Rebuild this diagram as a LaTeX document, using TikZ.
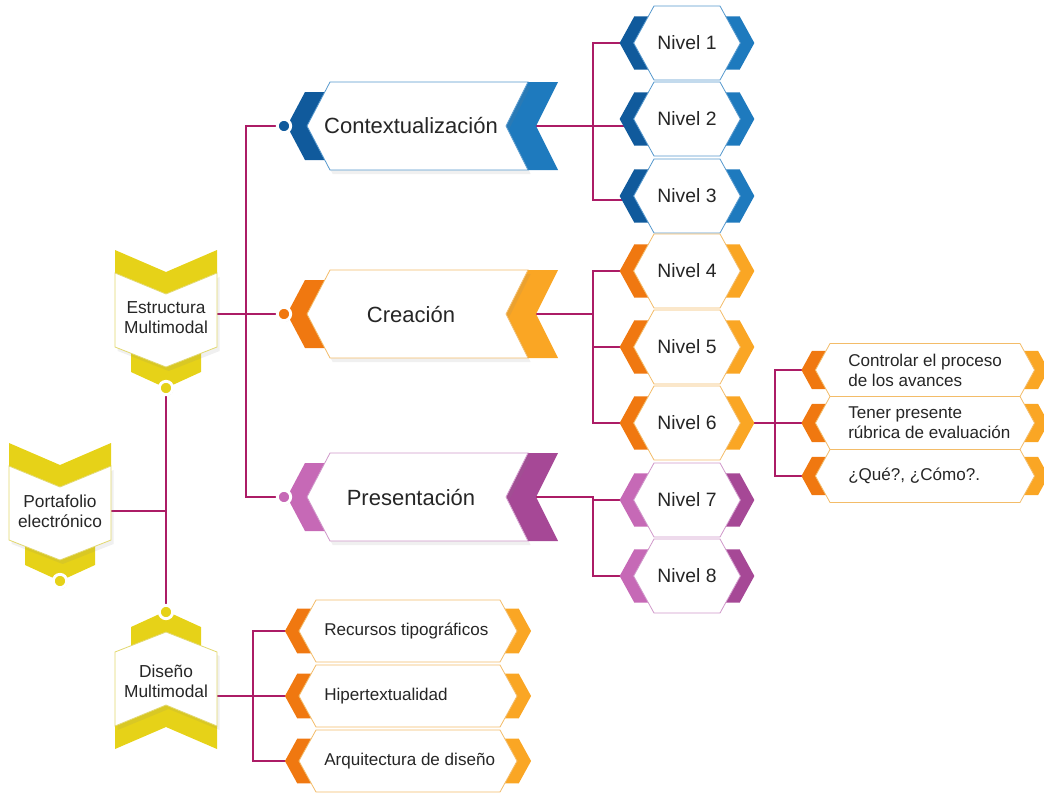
\documentclass[tikz,border=0pt]{standalone}
\usepackage{fontspec}
\setmainfont{Liberation Sans}
\usepackage{tikz}
\usetikzlibrary{shadows}
\pgfdeclarelayer{bg}
\pgfsetlayers{bg,main}

\definecolor{blueA}{RGB}{16,90,156}
\definecolor{blueB}{RGB}{30,122,190}
\definecolor{blueL}{RGB}{85,152,205}
\definecolor{orangeA}{RGB}{240,120,16}
\definecolor{orangeB}{RGB}{250,166,36}
\definecolor{orangeL}{RGB}{243,188,105}
\definecolor{violetA}{RGB}{198,105,182}
\definecolor{violetB}{RGB}{166,72,150}
\definecolor{violetL}{RGB}{208,152,202}
\definecolor{yellowA}{RGB}{230,210,24}
\definecolor{yellowL}{RGB}{226,216,110}
\definecolor{linkc}{RGB}{172,28,102}
\definecolor{txt}{RGB}{38,38,38}

\begin{document}
\begin{tikzpicture}[x=0.75pt, y=-0.75pt,
	link/.style={draw=linkc, line width=1.1pt},
	dot/.style={circle, fill=#1, draw=white, line width=2.2pt, minimum size=10pt, inner sep=0pt,
		drop shadow={opacity=.3, shadow xshift=.6pt, shadow yshift=-.8pt}},
	maintxt/.style={font=\fontsize{16.5}{19}\selectfont, text=txt},
	niveltxt/.style={font=\fontsize{14.5}{17}\selectfont, text=txt},
	leaftxt/.style={font=\fontsize{12.8}{15}\selectfont, text=txt, align=left, inner sep=0pt},
	ytxt/.style={font=\fontsize{13}{15}\selectfont, text=txt, align=center},
	pics/banner/.style n args={3}{code={
		\fill[fill=#1] (-112,-34) -- (-90,-34) -- (-108,0) -- (-90,34) -- (-112,34) -- (-130,0) -- cycle;
		\fill[fill=#2] (111,-44) -- (141,-44) -- (119,0) -- (141,44) -- (111,44) -- (89,0) -- cycle;
		\filldraw[fill=white, draw=#3, line width=.6pt, drop shadow={opacity=.12, shadow xshift=2pt, shadow yshift=-3pt}]
			(-87,-44) -- (111,-44) -- (89,0) -- (111,44) -- (-87,44) -- (-110,0) -- cycle;
	}},
	pics/hexa/.style n args={5}{code={
		\pgfmathsetmacro\hxtip{#1+0.55*#2}
		\pgfmathsetmacro\hxh{0.72*#2}
		\pgfmathsetmacro\hxb{#1+0.55*(#2-\hxh)}
		\fill[fill=#3] (-\hxb+5,-\hxh) -- (-\hxb-14,-\hxh) -- (-\hxtip-14,0) -- (-\hxb-14,\hxh) -- (-\hxb+5,\hxh) -- (-\hxtip+5,0) -- cycle;
		\fill[fill=#4] (\hxb-5,-\hxh) -- (\hxb+14,-\hxh) -- (\hxtip+14,0) -- (\hxb+14,\hxh) -- (\hxb-5,\hxh) -- (\hxtip-5,0) -- cycle;
		\filldraw[fill=white, draw=#5, line width=.6pt]
			(-#1,-#2) -- (#1,-#2) -- (\hxtip,0) -- (#1,#2) -- (-#1,#2) -- (-\hxtip,0) -- cycle;
	}},
	pics/tag/.style={code={
		\fill[yellowA] (-35,25) -- (35,25) -- (35,54) -- (0,70) -- (-35,54) -- cycle;
		\fill[yellowA] (-51,-68) -- (0,-46) -- (51,-68) -- (51,-45) -- (0,-24) -- (-51,-45) -- cycle;
		\filldraw[fill=white, draw=yellowL, line width=.6pt, drop shadow={opacity=.12, shadow xshift=2pt, shadow yshift=-3pt}]
			(-51,-45) -- (0,-24) -- (51,-45) -- (51,29) -- (0,49) -- (-51,29) -- cycle;
	}}]
\useasboundingbox (0,0) rectangle (1044,793);

\coordinate (jA) at (246,0);
\coordinate (jB) at (593,0);
\coordinate (jC) at (775,0);
\coordinate (jD) at (253,0);

% yellow tags
\pic at (166,318) {tag};
\node[ytxt] (estr) at (166,318) {Estructura\\Multimodal};
\node[dot=yellowA] (ed) at (166,388) {};
\pic at (60,511) {tag};
\node[ytxt] (port) at (60,511) {Portafolio\\electrónico};
\node[dot=yellowA] (pd) at (60,581) {};
\pic[yscale=-1] at (166,681) {tag};
\node[ytxt] (dis) at (166,681) {Diseño\\Multimodal};
\node[dot=yellowA] (dd) at (166,612) {};

% banners
\pic at (417,126) {banner={blueA}{blueB}{blueL}};
\node[maintxt] (ctx) at (411,126) {Contextualización};
\node[dot=blueA] (d1) at (284,126) {};
\pic at (417,314) {banner={orangeA}{orangeB}{orangeL}};
\node[maintxt] (cre) at (411,314) {Creación};
\node[dot=orangeA] (d2) at (284,314) {};
\pic at (417,497) {banner={violetA}{violetB}{violetL}};
\node[maintxt] (pres) at (411,497) {Presentación};
\node[dot=violetA] (d3) at (284,497) {};

% niveles
\foreach \i/\y/\ca/\cb/\cl in {1/43/blueA/blueB/blueL, 2/119/blueA/blueB/blueL, 3/196/blueA/blueB/blueL,
	4/271/orangeA/orangeB/orangeL, 5/347/orangeA/orangeB/orangeL, 6/423/orangeA/orangeB/orangeL,
	7/500/violetA/violetB/violetL, 8/576/violetA/violetB/violetL}{
	\pic at (687,\y) {hexa={33}{37}{\ca}{\cb}{\cl}};
	\node[niveltxt] (n\i) at (687,\y) {Nivel \i};
}

% hojas
\foreach \y in {370,423,476}
	\pic at (925,\y) {hexa={95}{26.5}{orangeA}{orangeB}{orangeL}};
\node[leaftxt, anchor=west] (h1) at (848,370) {Controlar el proceso\\de los avances};
\node[leaftxt, anchor=west] (h2) at (848,423) {Tener presente\\rúbrica de evaluación};
\node[leaftxt, anchor=west] (h3) at (848,476) {¿Qué?, ¿Cómo?.};

\foreach \y in {631,696,761}
	\pic at (408,\y) {hexa={92}{31}{orangeA}{orangeB}{orangeL}};
\node[leaftxt, anchor=west] (r1) at (324,631) {Recursos tipográficos};
\node[leaftxt, anchor=west] (r2) at (324,696) {Hipertextualidad};
\node[leaftxt, anchor=west] (r3) at (324,761) {Arquitectura de diseño};

\begin{pgfonlayer}{bg}
\draw[link] (d1) -- (d1 -| jA) |- (d3);
\draw[link] (estr |- d2) -- (d2);
\draw[link] (ed) -- (dd);
\draw[link] (port) -- (port -| ed);
\draw[link] (ctx) -- (ctx -| n2) (ctx -| jB) |- (n1) (ctx -| jB) |- ([yshift=-8pt]n3);
\draw[link] (cre) -- (cre -| jB) |- (n4) (cre -| jB) |- (n5) (cre -| jB) |- (n6);
\draw[link] (pres) -- (pres -| jB) |- (n7) (pres -| jB) |- (n8);
\draw[link] (n6) -- (h2) (h1) -- (h1 -| jC) -- (h3 -| jC) -- (h3);
\draw[link] (dis |- r2) -- (r2) (r1) -- (r1 -| jD) -- (r3 -| jD) -- (r3);
\end{pgfonlayer}
\end{tikzpicture}
\end{document}
